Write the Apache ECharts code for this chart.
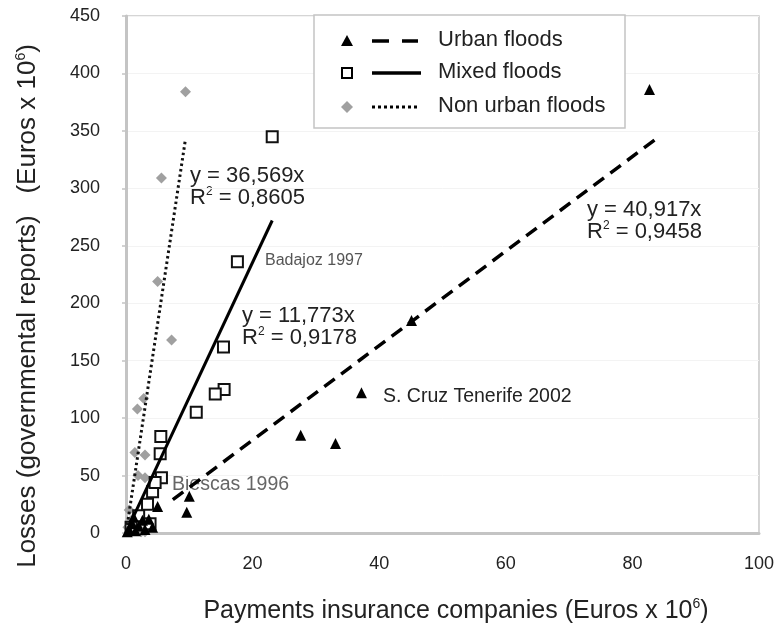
<!DOCTYPE html>
<html>
<head>
<meta charset="utf-8">
<script src="https://cdn.jsdelivr.net/npm/echarts@6/dist/echarts.min.js"></script>
<style>
html,body{margin:0;padding:0;background:#fff;}
#main{width:777px;height:626px;}
</style>
</head>
<body>
<div id="main"></div>
<script>
// ---- data ----
var xTicks = [0, 20, 40, 60, 80, 100];
var yTicks = [0, 50, 100, 150, 200, 250, 300, 350, 400, 450];

var urbanPoints = [
  [82.7, 386], [45.1, 185], [37.2, 122], [27.6, 85], [33.1, 78],
  [10.0, 32], [9.6, 18], [5.0, 23],
  [0.5, 3], [1.0, 8], [1.5, 2], [2.0, 6], [2.6, 11], [0.2, 1], [3.0, 3], [1.2, 14], [3.6, 12], [4.2, 5]
];
var mixedPoints = [
  [23.1, 345], [17.6, 236], [15.4, 162], [15.5, 125], [14.1, 121], [11.1, 105],
  [5.5, 84], [5.4, 69], [5.6, 48], [4.2, 36], [3.4, 25], [4.6, 44],
  [2.0, 15], [0.8, 5], [3.8, 8]
];
var nonUrbanPoints = [
  [9.4, 384], [5.6, 309], [5.0, 219], [7.2, 168], [1.8, 108], [2.8, 117],
  [1.4, 70], [3.0, 68], [1.9, 50], [3.0, 48], [0.5, 20], [1.0, 12],
  [2.0, 4], [3.0, 1], [0.3, 5], [2.4, 1]
];
var urbanTrend = [[7.4, 29], [83.5, 342]];
var mixedTrend = [[0.3, 4], [23.1, 272]];
var nonUrbanTrend = [[0.2, 7], [9.4, 343]];

var seriesNames = ['Urban floods', 'Mixed floods', 'Non urban floods'];
var eqTexts = [['y = 40,917x', '0,9458'], ['y = 11,773x', '0,9178'], ['y = 36,569x', '0,8605']];
var pointLabels = ['S. Cruz Tenerife 2002', 'Badajoz 1997', 'Biescas 1996'];

var FONT = '"Liberation Sans", Arial, Helvetica, sans-serif';
var chart = echarts.init(document.getElementById('main'), null, {renderer: 'canvas'});

function eqGraphic(x, y, lines) {
  return [
    {type: 'text', left: x, top: y, style: {text: lines[0], font: '22px ' + FONT, fill: '#222'}},
    {type: 'text', left: x, top: y + 21, style: {
      text: '{n|R}{s|2}{n| = ' + lines[1] + '}',
      rich: {
        n: {fontSize: 22, fontFamily: FONT, fill: '#222', lineHeight: 24},
        s: {fontSize: 12, fontFamily: FONT, fill: '#222', verticalAlign: 'top', lineHeight: 24, padding: [0, 0, 11, 0]}
      }
    }}
  ];
}

var legendY = [41, 73, 107];
var graphics = [
  // legend box
  {type: 'rect', shape: {x: 314, y: 15, width: 311, height: 113}, style: {fill: '#fff', stroke: '#c4c4c4', lineWidth: 1.5}, z: 100},
  // urban
  {type: 'polygon', shape: {points: [[347, 35], [353, 46], [341, 46]]}, style: {fill: '#000'}, z: 101},
  {type: 'line', shape: {x1: 372, y1: legendY[0], x2: 418, y2: legendY[0]}, style: {stroke: '#000', lineWidth: 3.5, lineDash: [17, 13]}, z: 101},
  // mixed
  {type: 'rect', shape: {x: 342, y: legendY[1] - 5, width: 10, height: 10}, style: {fill: '#fff', stroke: '#000', lineWidth: 2}, z: 101},
  {type: 'line', shape: {x1: 372, y1: legendY[1], x2: 421, y2: legendY[1]}, style: {stroke: '#000', lineWidth: 3.5}, z: 101},
  // non urban
  {type: 'polygon', shape: {points: [[347, legendY[2] - 6], [353, legendY[2]], [347, legendY[2] + 6], [341, legendY[2]]]}, style: {fill: '#a0a0a0'}, z: 101},
  {type: 'line', shape: {x1: 372, y1: legendY[2], x2: 418, y2: legendY[2]}, style: {stroke: '#000', lineWidth: 3, lineDash: [3, 3]}, z: 101}
];
for (var i = 0; i < 3; i++) {
  graphics.push({type: 'text', left: 438, top: legendY[i] - 12, z: 101,
    style: {text: seriesNames[i], font: '22px ' + FONT, fill: '#222'}});
}
graphics = graphics.concat(eqGraphic(587, 199, eqTexts[0]));
graphics = graphics.concat(eqGraphic(242, 305, eqTexts[1]));
graphics = graphics.concat(eqGraphic(190, 165, eqTexts[2]));
graphics.push({type: 'text', left: 383, top: 387, style: {text: pointLabels[0], font: '19.5px ' + FONT, fill: '#222'}});
graphics.push({type: 'text', left: 265, top: 253, style: {text: pointLabels[1], font: '16px ' + FONT, fill: '#555'}});
graphics.push({type: 'text', left: 172, top: 475, style: {text: pointLabels[2], font: '19.5px ' + FONT, fill: '#666'}});
// axis titles
graphics.push({type: 'text', x: 456, y: 611, style: {
  text: '{n|Payments insurance companies (Euros x 10}{s|6}{n|)}',
  align: 'center', verticalAlign: 'middle',
  rich: {
    n: {fontSize: 25, fontFamily: FONT, fill: '#222', lineHeight: 28},
    s: {fontSize: 14, fontFamily: FONT, fill: '#222', verticalAlign: 'top', lineHeight: 28, padding: [0, 0, 13, 0]}
  }
}});
graphics.push({type: 'text', x: 28, y: 306, rotation: Math.PI / 2, style: {
  text: '{n|Losses (governmental reports)   (Euros x 10}{s|6}{n|)}',
  align: 'center', verticalAlign: 'middle',
  rich: {
    n: {fontSize: 26, fontFamily: FONT, fill: '#222', lineHeight: 28},
    s: {fontSize: 14, fontFamily: FONT, fill: '#222', verticalAlign: 'top', lineHeight: 28, padding: [0, 0, 13, 0]}
  }
}});

var option = {
  animation: false,
  backgroundColor: '#fff',
  grid: {left: 126, top: 16, right: 14, bottom: 93, show: true, borderColor: '#c8c8c8', borderWidth: 1.5},
  xAxis: {
    type: 'value', min: xTicks[0], max: xTicks[xTicks.length - 1], interval: 20,
    axisLine: {show: true, onZero: false, lineStyle: {color: '#c4c4c4', width: 3}},
    axisTick: {show: false},
    splitLine: {show: false},
    axisLabel: {fontSize: 18, fontFamily: FONT, color: '#222', margin: 22}
  },
  yAxis: {
    type: 'value', min: yTicks[0], max: yTicks[yTicks.length - 1], interval: 50,
    axisLine: {show: true, onZero: false, lineStyle: {color: '#c4c4c4', width: 3}},
    axisTick: {show: true, length: 4, lineStyle: {color: '#c4c4c4', width: 1.5}},
    splitLine: {show: true, lineStyle: {color: '#f3f3f3', width: 1}},
    axisLabel: {fontSize: 18, fontFamily: FONT, color: '#222', margin: 26}
  },
  series: [
    {name: seriesNames[2], type: 'scatter', data: nonUrbanPoints, symbol: 'diamond', symbolSize: 11,
      itemStyle: {color: '#a0a0a0', opacity: 1}, z: 2},
    {name: seriesNames[1], type: 'scatter', data: mixedPoints, symbol: 'rect', symbolSize: 11,
      itemStyle: {color: '#fff', borderColor: '#111', borderWidth: 2, opacity: 1}, z: 3},
    {name: seriesNames[0], type: 'scatter', data: urbanPoints, symbol: 'triangle', symbolSize: 11,
      itemStyle: {color: '#000', opacity: 1}, z: 4},
    {type: 'line', data: nonUrbanTrend, showSymbol: false, symbol: 'none', silent: true, z: 5,
      lineStyle: {color: '#111', width: 3, type: [2.5, 3]}},
    {type: 'line', data: mixedTrend, showSymbol: false, symbol: 'none', silent: true, z: 5,
      lineStyle: {color: '#000', width: 3}},
    {type: 'line', data: urbanTrend, showSymbol: false, symbol: 'none', silent: true, z: 5,
      lineStyle: {color: '#000', width: 3.5, type: [13, 8]}}
  ],
  graphic: graphics
};
chart.setOption(option);
</script>
</body>
</html>
